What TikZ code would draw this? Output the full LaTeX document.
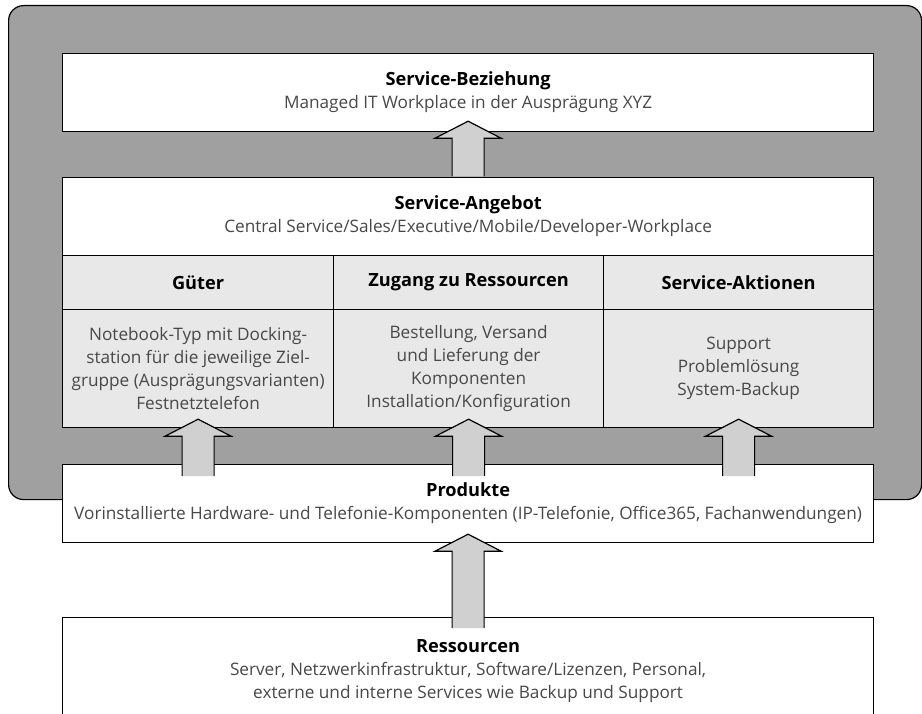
\documentclass[tikz,border=0pt]{standalone}
\usepackage{fontspec}
\setmainfont{Open Sans}
\usetikzlibrary{calc}

\definecolor{panelgray}{RGB}{160,160,160}
\definecolor{cellgray}{RGB}{232,232,232}
\definecolor{arrowgray}{RGB}{208,208,208}
\definecolor{textgray}{RGB}{72,72,72}

\tikzset{
  panel/.style={draw=black, line width=1.2pt, fill=panelgray, rounded corners=15pt,
    inner sep=0pt, anchor=north west},
  box/.style={draw=black, line width=1.2pt, fill=white, inner sep=0pt,
    anchor=north west, align=center, text=textgray,
    font=\fontsize{17.2}{23}\selectfont},
  cell/.style={box, fill=cellgray},
  headcell/.style={cell, text=black, font=\fontsize{18.2}{23}\selectfont\bfseries},
  uparrow/.style={draw=black, fill=arrowgray, line width=1.2pt, line join=miter},
}

% wide block arrow from a base point (open end) up to a tip
\newcommand\blockarrow[2]{%
  \path[uparrow] let \p1=(#1), \p2=(#2) in
    (\x1-16pt,\y1) -- (\x1-16pt,\y2-17pt) -- (\x1-33pt,\y2-17pt) -- (\x1,\y2)
    -- (\x1+33pt,\y2-17pt) -- (\x1+16pt,\y2-17pt) -- (\x1+16pt,\y1);
}
\newcommand\hd[1]{{\color{black}\fontsize{18.2}{23}\selectfont\bfseries #1}}

\begin{document}
\begin{tikzpicture}[x=1pt, y=-1pt]
\useasboundingbox (0,0) rectangle (922,714);
\clip (0,0) rectangle (922,714);

% grey frame of the service offer
\node[panel, minimum width=913pt, minimum height=494pt] (panel) at (8,5) {};

% service relation
\node[box, minimum width=811pt, minimum height=78pt] (rel) at (62,53)
  {\hd{Service-Beziehung}\\Managed IT Workplace in der Ausprägung XYZ};

% service offer with its three columns
\node[box, minimum width=811pt, minimum height=78pt] (offer) at (62,177)
  {\hd{Service-Angebot}\\Central Service/Sales/Executive/Mobile/Developer-Workplace};

\node[headcell, minimum width=271pt, minimum height=54pt] (ghead) at (62,255) {Güter};
\node[headcell, minimum width=270pt, minimum height=54pt] (zhead) at (333,255) {Zugang zu Ressourcen};
\node[headcell, minimum width=270pt, minimum height=54pt] (shead) at (603,255) {Service-Aktionen};

\node[cell, minimum width=271pt, minimum height=118pt] (gbody) at (62,309)
  {Notebook-Typ mit Docking-\\station für die jeweilige Ziel-\\gruppe (Ausprägungsvarianten)\\Festnetztelefon};
\node[cell, minimum width=270pt, minimum height=118pt] (zbody) at (333,309)
  {Bestellung, Versand\\und Lieferung der\\Komponenten\\Installation/Konfiguration};
\node[cell, minimum width=270pt, minimum height=118pt] (sbody) at (603,309)
  {Support\\Problemlösung\\System-Backup};

% products
\node[box, minimum width=811pt, minimum height=78pt] (prod) at (62,464)
  {\hd{Produkte}\\Vorinstallierte Hardware- und Telefonie-Komponenten (IP-Telefonie, Office365, Fachanwendungen)};

% resources (runs past the lower edge)
\node[box, minimum width=811pt, minimum height=106pt] (res) at (62,617)
  {\hd{Ressourcen}\\Server, Netzwerkinfrastruktur, Software/Lizenzen, Personal,\\externe und interne Services wie Backup und Support};

% arrow end points
\coordinate (a0b) at ($(offer.north)+(0,-0.6)$);
\coordinate (a0t) at ($(rel.south)+(0,-11)$);
\coordinate (a1b) at ($(gbody.south |- prod.north)+(0,12)$);
\coordinate (a1t) at ($(gbody.south)+(0,-9)$);
\coordinate (a2b) at ($(zbody.south |- prod.north)+(0,12)$);
\coordinate (a2t) at ($(zbody.south)+(0,-9)$);
\coordinate (a3b) at ($(sbody.south |- prod.north)+(0,12)$);
\coordinate (a3t) at ($(sbody.south)+(0,-9)$);
\coordinate (a4b) at ($(res.north)+(0,11)$);
\coordinate (a4t) at ($(prod.south)+(0,-9)$);

\blockarrow{a0b}{a0t}
\blockarrow{a1b}{a1t}
\blockarrow{a2b}{a2t}
\blockarrow{a3b}{a3t}
\blockarrow{a4b}{a4t}
\end{tikzpicture}
\end{document}
